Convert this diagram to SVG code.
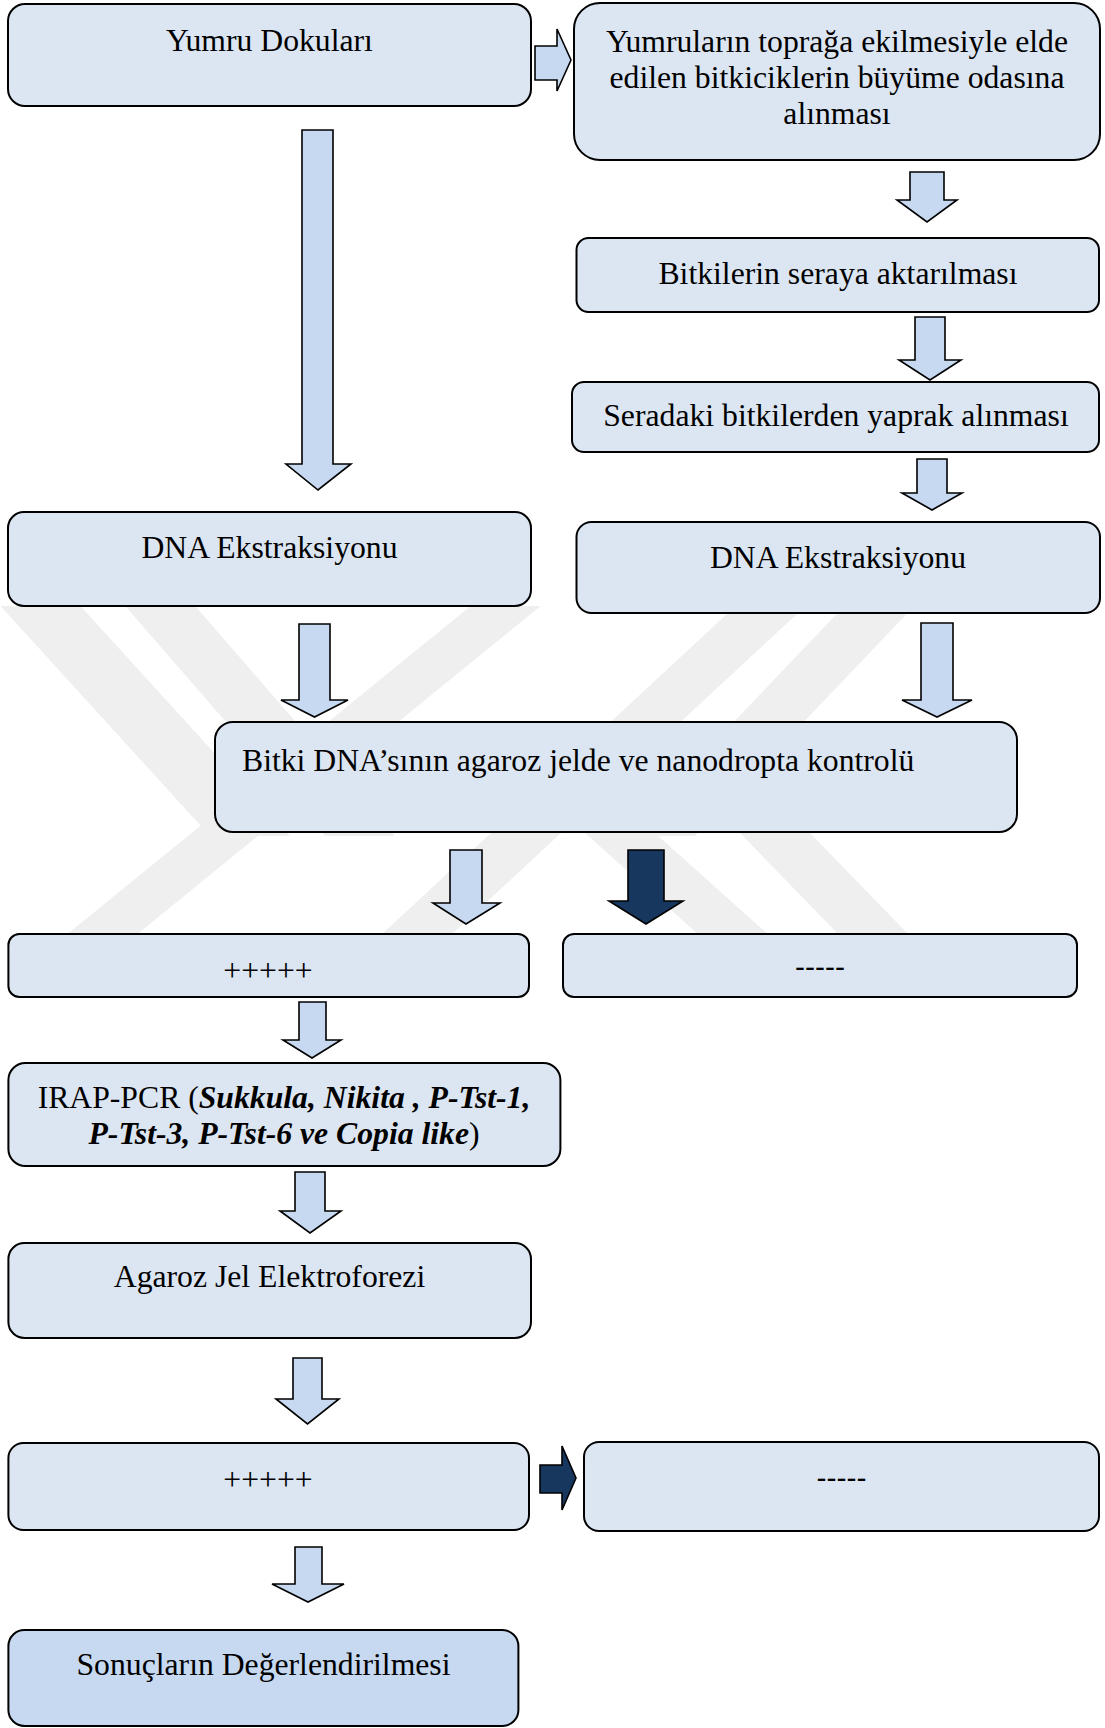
<svg xmlns="http://www.w3.org/2000/svg" width="1105" height="1728" viewBox="0 0 1105 1728">
<defs>
<style>
.box{fill:#dce6f2;stroke:#000;stroke-width:2}
.box2{fill:#c6d9f1;stroke:#000;stroke-width:2}
.arr{fill:#c6d9f1;stroke:#000;stroke-width:1.6;stroke-linejoin:miter}
.dark{fill:#17375e;stroke:#000;stroke-width:1.6;stroke-linejoin:miter}
.t{font-family:"Liberation Serif","Times New Roman",serif;font-size:31.7px;fill:#000;text-anchor:middle}
.d{font-family:"Liberation Sans",Arial,sans-serif;font-size:30px;fill:#000;text-anchor:middle}
.bi{font-weight:bold;font-style:italic}
.wm{fill:#efefef}
</style>
<clipPath id="wmclip"><rect x="0" y="606" width="1105" height="330"/></clipPath>
</defs>
<rect width="1105" height="1728" fill="#fff"/>
<g id="watermark" clip-path="url(#wmclip)">
<polygon class="wm" points="-5,600 75,600 290,836 210,836"/>
<polygon class="wm" points="120,600 190,600 395,836 325,836"/>
<polygon class="wm" points="478,600 548,600 135,936 65,936"/>
<polygon class="wm" points="742,600 812,600 450,936 380,936"/>
<polygon class="wm" points="850,600 920,600 695,836 625,836"/>
<polygon class="wm" points="585,833 655,833 770,936 700,936"/>
<polygon class="wm" points="740,833 810,833 910,936 840,936"/>
</g>
<g id="connectors">
<polygon class="arr" points="535,46 557,46 557,29 571,60 557,91 557,80 535,80"/>
<polygon class="arr" points="302,130 333,130 333,464 351,464 318,490 286,464 302,464"/>
<polygon class="arr" points="910,172 944,172 944,200 957,200 927,222 897,200 910,200"/>
<polygon class="arr" points="915,317 945,317 945,360 961,360 930,380 899,360 915,360"/>
<polygon class="arr" points="917,459 947,459 947,493 962,493 932,510 902,493 917,493"/>
<polygon class="arr" points="299,624 330,624 330,700 348,700 314.5,717 281,700 299,700"/>
<polygon class="arr" points="921,623 953,623 953,700 972,700 937,717 902,700 921,700"/>
<polygon class="arr" points="450,850 482,850 482,903 500,903 466,924 433,903 450,903"/>
<polygon class="dark" points="628,850 664,850 664,901 683,901 646,924 609,901 628,901"/>
<polygon class="arr" points="299,1002 326,1002 326,1040 341,1040 312,1058 283,1040 299,1040"/>
<polygon class="arr" points="295,1172 325,1172 325,1211 341,1211 310,1233 280,1211 295,1211"/>
<polygon class="arr" points="293,1358 322,1358 322,1399 339,1399 307.5,1424 276,1399 293,1399"/>
<polygon class="arr" points="295,1547 322,1547 322,1584 344,1584 308,1602 272,1584 295,1584"/>
<polygon class="dark" points="540,1465 562,1465 562,1446 576,1478 562,1510 562,1493 540,1493"/>
</g>
<g id="n1"><rect class="box" x="8" y="4" width="523" height="102" rx="17"/><text class="t" x="269.5" y="51">Yumru Dokuları</text></g>
<g id="n2"><rect class="box" x="574" y="3" width="526" height="157" rx="26"/>
<text class="t" x="837" y="52">Yumruların toprağa ekilmesiyle elde</text>
<text class="t" x="837" y="88">edilen bitkiciklerin büyüme odasına</text>
<text class="t" x="837" y="124">alınması</text></g>
<g id="n3"><rect class="box" x="576.5" y="238" width="522.5" height="74" rx="12"/><text class="t" x="838" y="284">Bitkilerin seraya aktarılması</text></g>
<g id="n4"><rect class="box" x="572" y="382" width="527" height="70" rx="12"/><text class="t" x="836" y="426">Seradaki bitkilerden yaprak alınması</text></g>
<g id="n5"><rect class="box" x="576.5" y="522" width="523.5" height="91" rx="15"/><text class="t" x="838" y="568">DNA Ekstraksiyonu</text></g>
<g id="n6"><rect class="box" x="8" y="512" width="523" height="94" rx="16"/><text class="t" x="269.5" y="558">DNA Ekstraksiyonu</text></g>
<g id="n7"><rect class="box" x="215" y="722" width="802" height="110" rx="18"/><text class="t" x="242" y="771" style="text-anchor:start">Bitki DNA’sının agaroz jelde ve nanodropta kontrolü</text></g>
<g id="n8"><rect class="box" x="8.4" y="934" width="520.6" height="63" rx="11"/><text class="t" x="268" y="981">+++++</text></g>
<g id="n9"><rect class="box" x="563" y="934" width="514" height="63" rx="11"/><text class="d" x="820" y="977">-----</text></g>
<g id="n10"><rect class="box" x="8.4" y="1063" width="552" height="103" rx="17"/>
<text class="t" x="284" y="1108">IRAP-PCR (<tspan class="bi">Sukkula, Nikita , P-Tst-1,</tspan></text>
<text class="t" x="284" y="1144"><tspan class="bi">P-Tst-3, P-Tst-6 ve Copia like</tspan>)</text></g>
<g id="n11"><rect class="box" x="8.4" y="1243" width="522.6" height="95" rx="16"/><text class="t" x="269.5" y="1287">Agaroz Jel Elektroforezi</text></g>
<g id="n12"><rect class="box" x="8.4" y="1443" width="520.6" height="87" rx="15"/><text class="t" x="268" y="1490">+++++</text></g>
<g id="n13"><rect class="box" x="584" y="1442" width="515" height="89" rx="15"/><text class="d" x="841.5" y="1488">-----</text></g>
<g id="n14"><rect class="box2" x="8.4" y="1630" width="510" height="96" rx="16"/><text class="t" x="263.5" y="1675">Sonuçların Değerlendirilmesi</text></g>
</svg>
